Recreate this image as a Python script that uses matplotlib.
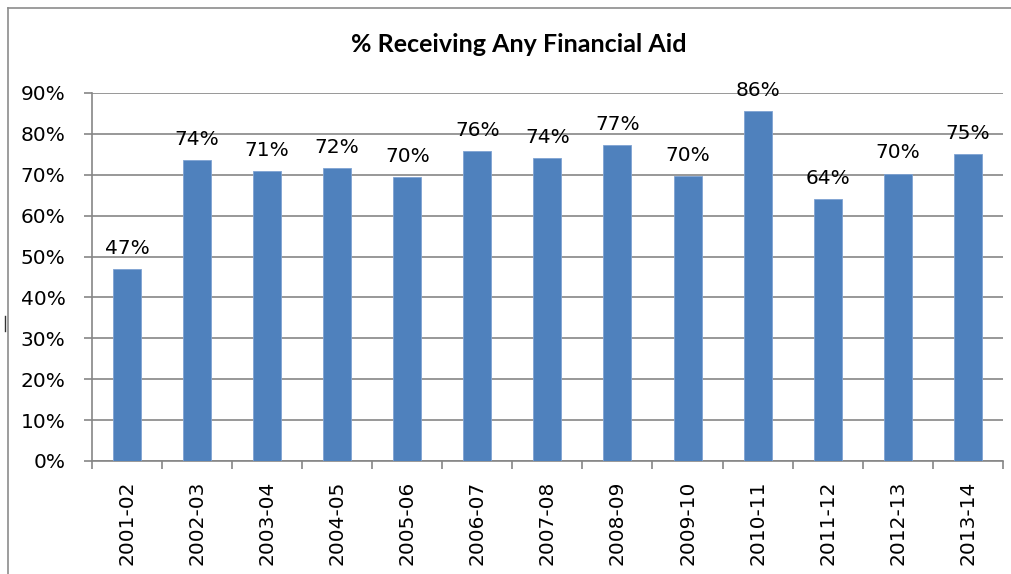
import matplotlib
matplotlib.use("Agg")
import matplotlib.pyplot as plt
from matplotlib.lines import Line2D
from matplotlib.ticker import FixedLocator, PercentFormatter

# data
years = ["2001-02", "2002-03", "2003-04", "2004-05", "2005-06", "2006-07", "2007-08",
         "2008-09", "2009-10", "2010-11", "2011-12", "2012-13", "2013-14"]
pct_aid = [0.470, 0.736, 0.709, 0.716, 0.695, 0.759, 0.741,
           0.772, 0.697, 0.856, 0.640, 0.703, 0.750]
y_ticks = [0.0, 0.1, 0.2, 0.3, 0.4, 0.5, 0.6, 0.7, 0.8, 0.9]

bar_color = "#4F81BD"
line_gray = "#868686"

plt.rcParams["font.family"] = ["DejaVu Sans"]

fig = plt.figure(figsize=(10.12, 5.74), dpi=100)
ax = fig.add_axes([0.0909, 0.197, 0.9, 0.641])

x = list(range(len(years)))
ax.bar(x, pct_aid, width=0.4, color=bar_color, edgecolor="#7FA3D3",
       linewidth=0.6, zorder=3)

# value labels above each bar
for xi, v in zip(x, pct_aid):
    ax.annotate("{:.0%}".format(v), (xi, v), xytext=(0, 8), textcoords="offset points",
                ha="center", va="bottom", fontsize=14.5, color="black")

ax.set_xlim(-0.5, len(years) - 0.5)
ax.set_ylim(0, 0.9)
ax.yaxis.set_major_locator(FixedLocator(y_ticks))
ax.yaxis.set_major_formatter(PercentFormatter(1.0, decimals=0))
ax.grid(axis="y", color=line_gray, linewidth=1.2, zorder=0)

# category labels, ticks at the boundaries
ax.set_xticks(x)
ax.set_xticklabels(years, rotation=90, fontsize=14.5)
ax.set_xticks([i - 0.5 for i in range(len(years) + 1)], minor=True)
ax.tick_params(axis="x", which="major", length=0, pad=14)
ax.tick_params(axis="x", which="minor", length=6, width=1.2, color=line_gray, direction="out")
ax.tick_params(axis="y", length=6, width=1.2, color=line_gray, direction="out",
               labelsize=14.5, pad=13)

for side in ["top", "right"]:
    ax.spines[side].set_visible(False)
for side in ["left", "bottom"]:
    ax.spines[side].set_color(line_gray)
    ax.spines[side].set_linewidth(1.2)

fig.text(0.513, 0.922, "% Receiving Any Financial Aid", ha="center", va="center",
         fontsize=18, fontweight="bold", family=["Lato", "DejaVu Sans"])

# outer chart border (left and top edges visible)
fig.add_artist(Line2D([8 / 1012, 8 / 1012], [0, 1 - 8 / 574], color="#8C8C8C", linewidth=1.2))
fig.add_artist(Line2D([8 / 1012, 1], [1 - 8 / 574, 1 - 8 / 574], color="#8C8C8C", linewidth=1.2))
fig.add_artist(Line2D([5.5 / 1012, 5.5 / 1012], [1 - 316 / 574, 1 - 331 / 574], color="#333333", linewidth=1.0))

fig.savefig("out.png", dpi=100)
